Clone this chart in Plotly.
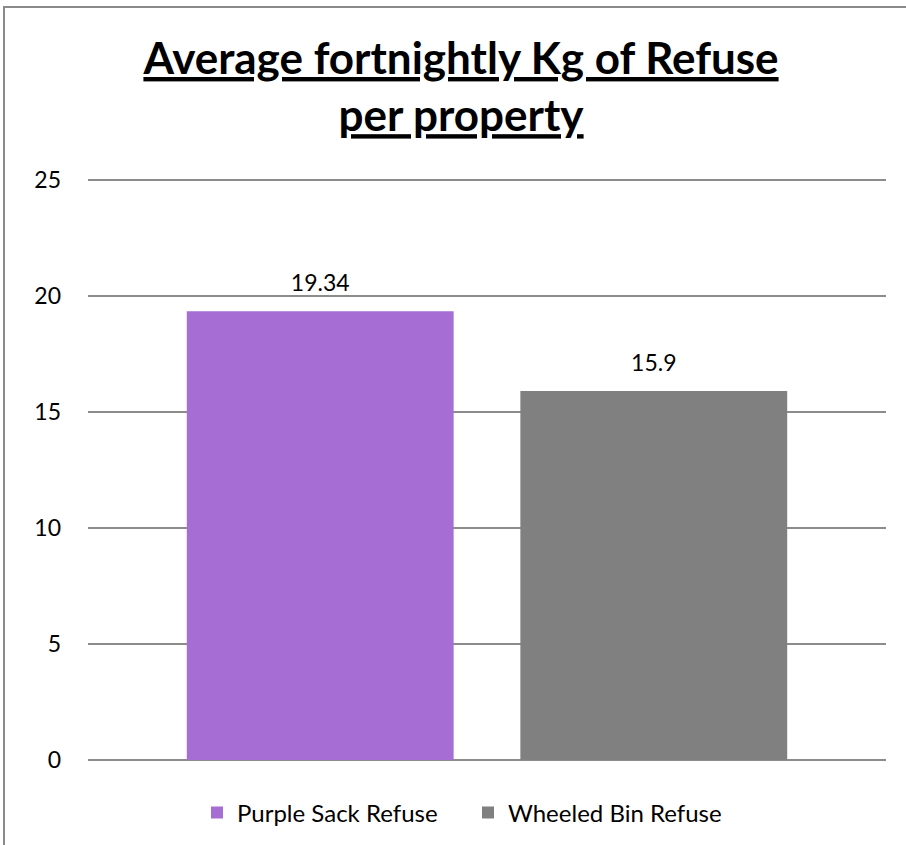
import plotly.graph_objects as go

# ---- data ----
group_label = ["Average"]
series_names = ["Purple Sack Refuse", "Wheeled Bin Refuse"]
series_values = [19.34, 15.9]
series_colors = ["#A66DD4", "#808080"]
y_ticks = [0, 5, 10, 15, 20, 25]
y_max = 25.3

W, H = 906, 845
ML, MR, MT, MB = 88, 20, 173, 85
FONT = "Lato"

fig = go.Figure()
for name, val, col in zip(series_names, series_values, series_colors):
    fig.add_trace(go.Bar(
        x=group_label, y=[val], name=name, marker=dict(color=col, line=dict(width=0)),
        offsetgroup=name,
    ))
for name, val in zip(series_names, series_values):
    fig.add_trace(go.Scatter(
        x=group_label, y=[val], mode="markers+text", text=[f"{val:g}"],
        textposition="top center", textfont=dict(size=23, color="#000000", family=FONT),
        marker=dict(size=22, color="rgba(0,0,0,0)"), showlegend=False, offsetgroup=name,
        hoverinfo="skip",
    ))

pw = W - ML - MR
ph = H - MT - MB
fig.add_shape(type="rect", xref="paper", yref="paper",
              x0=(4 - ML) / pw, x1=(W + 10 - ML) / pw,
              y0=-(MB + 10) / ph, y1=(ph + MT - 7) / ph,
              line=dict(color="#8a8a8a", width=2), fillcolor="rgba(0,0,0,0)", layer="below")

ul = "text-decoration:underline;text-decoration-thickness:4px;text-underline-offset:5px"
fig.update_layout(
    width=W, height=H,
    margin=dict(l=ML, r=MR, t=MT, b=MB),
    paper_bgcolor="white", plot_bgcolor="white",
    barmode="group", bargap=0.164, bargroupgap=0.2,
    scattermode="group", scattergap=0.164,
    font=dict(family=FONT, size=23, color="#000000"),
    title=dict(
        text=f"<span style='{ul}'>Average fortnightly Kg of Refuse</span><br>"
             f"<span style='{ul}'>per property</span>",
        font=dict(family=FONT, size=44, color="#000000", weight="bold"),
        x=461 / W, xref="container", xanchor="center",
        y=1 - 74 / H, yref="container", yanchor="top",
    ),
    xaxis=dict(showticklabels=False, showgrid=False, showline=False, zeroline=False, ticks=""),
    yaxis=dict(range=[0, y_max], tickvals=y_ticks, showgrid=True, gridcolor="#8c8c8c", gridwidth=1.5,
               zeroline=True, zerolinecolor="#8c8c8c", zerolinewidth=1.5, showline=False,
               ticks="", ticklabelstandoff=26, tickfont=dict(size=23, family=FONT)),
    legend=dict(orientation="h", xref="container", yref="container", x=468 / W, xanchor="center",
                y=1 - 813 / H, yanchor="middle", font=dict(size=24, family=FONT),
                entrywidth=226, entrywidthmode="pixels",
                itemsizing="constant", traceorder="normal"),
    showlegend=True,
)

fig.write_html("out.html", config={"displayModeBar": False},
               post_script="document.body.style.margin='0px';")
